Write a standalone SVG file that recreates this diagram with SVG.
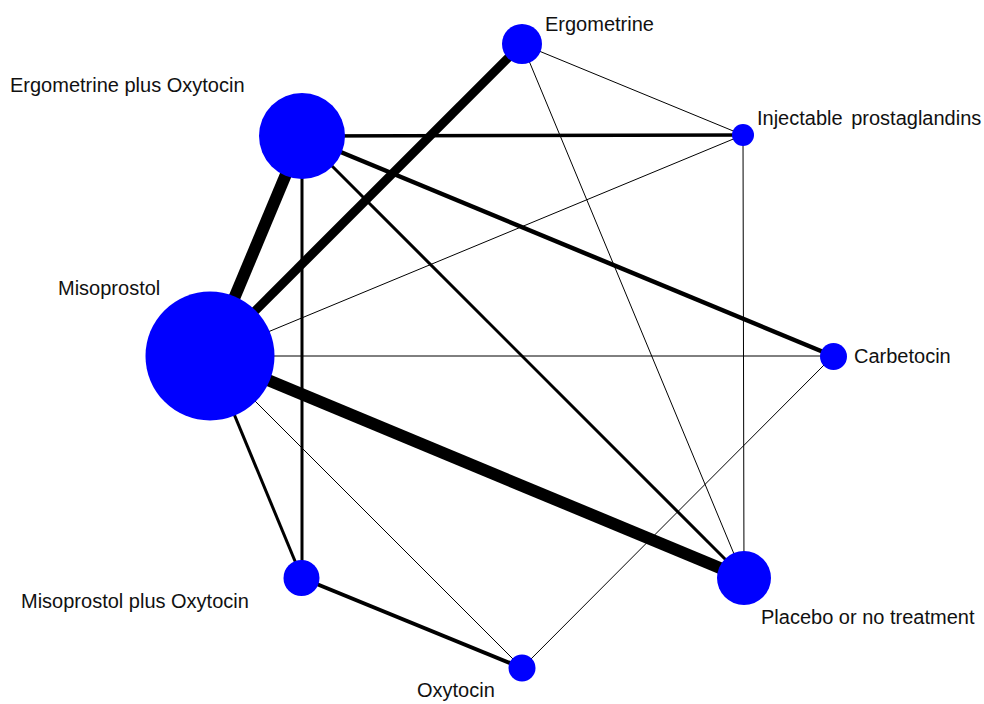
<svg xmlns="http://www.w3.org/2000/svg" width="984" height="704" viewBox="0 0 984 704">
  <style>
    .edge { stroke: #000; stroke-linecap: butt; fill: none; }
    .node circle { fill: #0000ff; }
    .node text { font-family: "Liberation Sans", Arial, sans-serif; font-size: 20px; fill: #111; }
  </style>
  <rect width="984" height="704" fill="#fff"/>
  <g id="connectors">
    <!-- thin comparisons -->
    <line class="edge" x1="210" y1="356" x2="743" y2="135" stroke-width="1"/>
    <line class="edge" x1="210" y1="356" x2="833" y2="356" stroke-width="1"/>
    <line class="edge" x1="210" y1="356" x2="522" y2="668" stroke-width="1"/>
    <line class="edge" x1="522" y1="44" x2="743" y2="135" stroke-width="1"/>
    <line class="edge" x1="522" y1="44" x2="744" y2="578" stroke-width="1"/>
    <line class="edge" x1="743" y1="135" x2="744" y2="578" stroke-width="1"/>
    <line class="edge" x1="833" y1="356" x2="522" y2="668" stroke-width="1"/>
    <!-- medium comparisons -->
    <line class="edge" x1="302" y1="136" x2="743" y2="135" stroke-width="3.5"/>
    <line class="edge" x1="302" y1="136" x2="833" y2="356" stroke-width="4.5"/>
    <line class="edge" x1="302" y1="136" x2="744" y2="578" stroke-width="3"/>
    <line class="edge" x1="302" y1="136" x2="302" y2="578" stroke-width="3"/>
    <line class="edge" x1="210" y1="356" x2="302" y2="578" stroke-width="3"/>
    <line class="edge" x1="302" y1="578" x2="522" y2="668" stroke-width="4"/>
    <!-- heavy comparisons -->
    <line class="edge" x1="210" y1="356" x2="302" y2="136" stroke-width="12"/>
    <line class="edge" x1="210" y1="356" x2="522" y2="44" stroke-width="9"/>
    <line class="edge" x1="210" y1="356" x2="744" y2="578" stroke-width="12"/>
  </g>
  <g id="node-ergometrine" class="node">
    <circle cx="522" cy="44" r="20"/>
    <text x="545" y="31">Ergometrine</text>
  </g>
  <g id="node-ergometrine-plus-oxytocin" class="node">
    <circle cx="302" cy="136" r="43"/>
    <text x="10" y="92">Ergometrine plus Oxytocin</text>
  </g>
  <g id="node-injectable-prostaglandins" class="node">
    <circle cx="743" cy="135" r="11"/>
    <text x="757" y="125" word-spacing="3">Injectable prostaglandins</text>
  </g>
  <g id="node-misoprostol" class="node">
    <circle cx="210" cy="356" r="64.5"/>
    <text x="58" y="295">Misoprostol</text>
  </g>
  <g id="node-carbetocin" class="node">
    <circle cx="833.5" cy="356.5" r="13.5"/>
    <text x="854" y="363">Carbetocin</text>
  </g>
  <g id="node-misoprostol-plus-oxytocin" class="node">
    <circle cx="301.5" cy="578" r="18"/>
    <text x="21" y="608">Misoprostol plus Oxytocin</text>
  </g>
  <g id="node-placebo" class="node">
    <circle cx="744" cy="578" r="27"/>
    <text x="761" y="624">Placebo or no treatment</text>
  </g>
  <g id="node-oxytocin" class="node">
    <circle cx="522" cy="668" r="13.5"/>
    <text x="417" y="697">Oxytocin</text>
  </g>
</svg>
